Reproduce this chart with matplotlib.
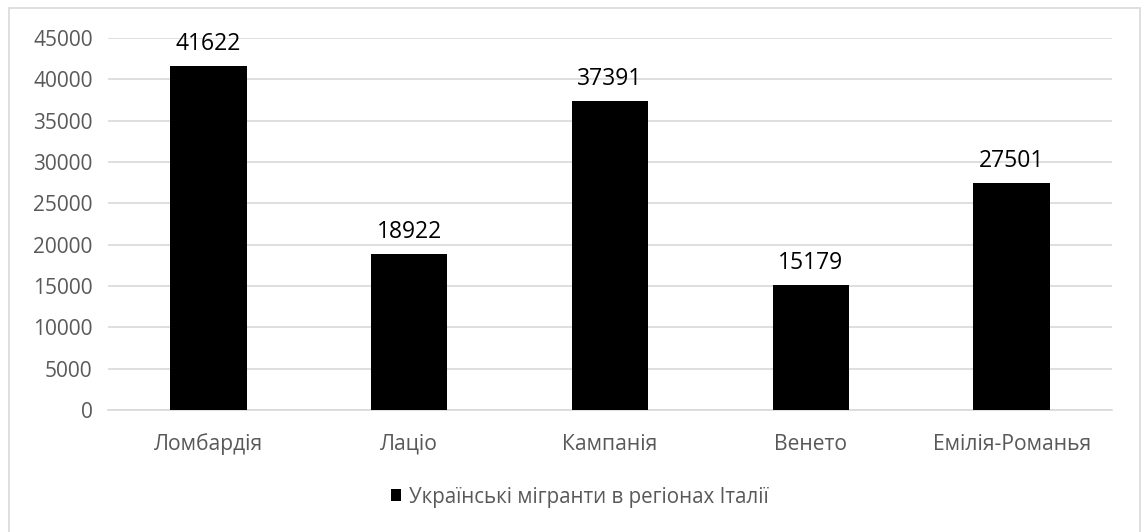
import matplotlib.pyplot as plt
from matplotlib.patches import Rectangle

regions = ['Ломбардія', 'Лаціо', 'Кампанія', 'Венето', 'Емілія-Романья']
migrants = [41622, 18922, 37391, 15179, 27501]
series_name = 'Українські мігранти в регіонах Італії'
y_ticks = list(range(0, 45001, 5000))

plt.rcParams['font.family'] = ['Open Sans', 'DejaVu Sans']

W, H = 1141, 532
fig = plt.figure(figsize=(W / 100, H / 100), dpi=100)
ax = fig.add_axes([108 / W, 1 - 410 / H, (1112 - 108) / W, (410 - 38) / H])

x = list(range(len(regions)))
bars = ax.bar(x, migrants, width=0.38, color='black', label=series_name, zorder=3)

for xi, v in zip(x, migrants):
    ax.annotate(str(v), (xi, v), xytext=(0, 7), textcoords='offset points',
                ha='center', va='bottom', fontsize=16.5, color='black')

ax.set_xlim(-0.5, len(regions) - 0.5)
ax.set_ylim(0, 45000)
ax.set_yticks(y_ticks)
ax.set_xticks(x)
ax.set_xticklabels(regions, fontsize=15.2)
ax.tick_params(axis='both', length=0, labelcolor='#595959')
ax.tick_params(axis='y', labelsize=15, pad=11)
ax.tick_params(axis='x', pad=17)
ax.grid(axis='y', color='#d9d9d9', linewidth=1.2, zorder=0)
for side in ['top', 'right', 'left']:
    ax.spines[side].set_visible(False)
ax.spines['bottom'].set_color('#d9d9d9')
ax.spines['bottom'].set_linewidth(1.2)

leg = fig.legend(handles=[bars], labels=[series_name], loc='center',
                 bbox_to_anchor=(580 / W, 1 - 497 / H), frameon=False,
                 fontsize=14.8, handlelength=0.5, handleheight=0.5,
                 handletextpad=0.4)
for t in leg.get_texts():
    t.set_color('#595959')

# outer chart border
fig.patches.append(Rectangle((9 / W, -0.01), (1140 - 9) / W, 1 - 8 / H + 0.01,
                             transform=fig.transFigure, fill=False,
                             edgecolor='#d9d9d9', linewidth=1.2))

plt.savefig('out.png', dpi=100)
plt.close()
